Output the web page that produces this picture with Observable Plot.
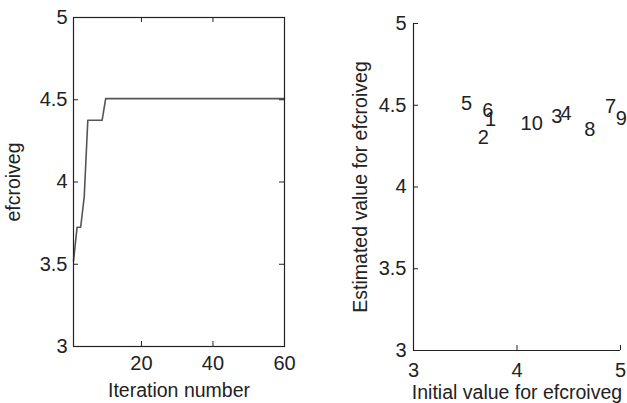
<!DOCTYPE html>
<html><head><meta charset="utf-8">
<script src="https://cdn.jsdelivr.net/npm/d3@7"></script>
<script src="https://cdn.jsdelivr.net/npm/@observablehq/plot@0.6"></script>
<style>
body{margin:0;background:#fff}
#wrap{display:flex;width:627px;height:403px;overflow:hidden}
#wrap svg{display:block}
</style>
</head><body><div id="wrap"></div>
<script>
// Left panel: convergence trace
const iterations = [1, 2, 3, 4, 5, 6, 7, 8, 9, 10, 60];
const estimates = [3.52, 3.725, 3.725, 3.91, 4.375, 4.375, 4.375, 4.375, 4.375, 4.507, 4.507];
const leftXTicks = [20, 40, 60];
const leftYTicks = [3, 3.5, 4, 4.5, 5];
const leftXLabel = "Iteration number";
const leftYLabel = "efcroiveg";

// Right panel: initial vs estimated values for runs 1..10
const runLabels = ["1", "2", "3", "4", "5", "6", "7", "8", "9", "10"];
const initialValues = [3.69, 3.62, 4.33, 4.42, 3.46, 3.665, 4.85, 4.65, 4.955, 4.035];
const finalValues = [4.41, 4.305, 4.43, 4.45, 4.513, 4.47, 4.49, 4.353, 4.418, 4.388];
const rightXTicks = [3, 4, 5];
const rightYTicks = [3, 3.5, 4, 4.5, 5];
const rightXLabel = "Initial value for efcroiveg";
const rightYLabel = "Estimated value for efcroiveg";

const INK = "#222";
const FONT = "'Liberation Sans', Arial, Helvetica, sans-serif";
const fmt = d3.format("~g");

// Left plot
const L = {w: 310, h: 403, ml: 73, mr: 26, mt: 17, mb: 57};
const Lfw = L.w - L.ml - L.mr, Lfh = L.h - L.mt - L.mb;
const left = Plot.plot({
  width: L.w, height: L.h,
  marginLeft: L.ml, marginRight: L.mr, marginTop: L.mt, marginBottom: L.mb,
  style: {fontFamily: FONT, color: INK, background: "#fff", overflow: "visible"},
  x: {domain: [1, 60], axis: null},
  y: {domain: [3, 5], axis: null},
  marks: [
    Plot.line(iterations, {x: d => d, y: (d, i) => estimates[i], stroke: "#555", strokeWidth: 1.6}),
    Plot.frame({stroke: INK, strokeWidth: 1.2}),
    Plot.tickY(leftYTicks, {y: d => d, insetRight: Lfw - 5, stroke: INK}),
    Plot.tickY(leftYTicks, {y: d => d, insetLeft: Lfw - 5, stroke: INK}),
    Plot.tickX(leftXTicks, {x: d => d, insetTop: Lfh - 5, stroke: INK}),
    Plot.tickX(leftXTicks, {x: d => d, insetBottom: Lfh - 5, stroke: INK}),
    Plot.axisX({ticks: leftXTicks, tickFormat: fmt, tickSize: 0, tickPadding: 9, fontSize: 20, label: null}),
    Plot.axisY({ticks: leftYTicks, tickFormat: fmt, tickSize: 0, tickPadding: 6, fontSize: 20, label: null}),
    Plot.text([leftXLabel], {frameAnchor: "bottom", dy: 44, text: d => d, textAnchor: "middle", lineAnchor: "middle", fontSize: 19.5, fill: INK}),
    Plot.text([leftYLabel], {frameAnchor: "left", dx: -60, rotate: -90, text: d => d, textAnchor: "middle", lineAnchor: "middle", fontSize: 19.5, fill: INK})
  ]
});

// Right plot
const R = {w: 317, h: 403, ml: 103, mr: 7, mt: 23, mb: 53};
const Rfw = R.w - R.ml - R.mr, Rfh = R.h - R.mt - R.mb;
const right = Plot.plot({
  width: R.w, height: R.h,
  marginLeft: R.ml, marginRight: R.mr, marginTop: R.mt, marginBottom: R.mb,
  style: {fontFamily: FONT, color: INK, background: "#fff", overflow: "visible"},
  x: {domain: [3, 5], axis: null},
  y: {domain: [3, 5], axis: null},
  marks: [
    Plot.ruleX([3], {stroke: INK, strokeWidth: 1.2}),
    Plot.ruleY([3], {stroke: INK, strokeWidth: 1.2}),
    Plot.tickY(rightYTicks, {y: d => d, insetRight: Rfw - 5, stroke: INK}),
    Plot.tickX(rightXTicks, {x: d => d, insetTop: Rfh - 5, stroke: INK}),
    Plot.axisX({ticks: rightXTicks, tickFormat: fmt, tickSize: 0, tickPadding: 12, fontSize: 20, label: null}),
    Plot.axisY({ticks: rightYTicks, tickFormat: fmt, tickSize: 0, tickPadding: 7, fontSize: 20, label: null}),
    Plot.text(runLabels, {x: (d, i) => initialValues[i], y: (d, i) => finalValues[i], text: d => d, textAnchor: "start", fontSize: 20, fill: INK}),
    Plot.text([rightXLabel], {frameAnchor: "bottom", dy: 42, text: d => d, textAnchor: "middle", lineAnchor: "middle", fontSize: 19.5, fill: INK}),
    Plot.text([rightYLabel], {frameAnchor: "left", dx: -53, rotate: -90, text: d => d, textAnchor: "middle", lineAnchor: "middle", fontSize: 19.5, fill: INK})
  ]
});

const wrap = document.getElementById("wrap");
wrap.appendChild(left);
wrap.appendChild(right);
</script>
</body></html>
